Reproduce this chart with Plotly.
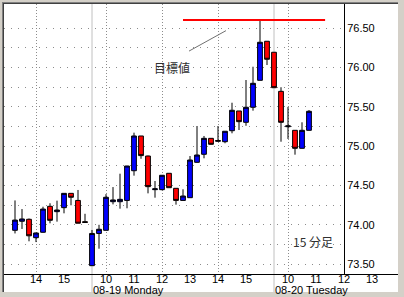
import plotly.graph_objects as go

# ---------------- data (15-minute bars) ----------------
bar_idx = list(range(43))
open_ = [73.93, 74.045, 74.07, 73.836, 73.905, 74.235, 74.167, 74.218, 74.40, 74.31,
         74.04, 73.48, 73.89, 73.93, 74.294, 74.294, 74.31, 74.688, 75.13, 74.875,
         74.447, 74.447, 74.655, 74.464, 74.31, 74.345, 74.795, 74.897, 75.10, 75.062,
         75.057, 75.197, 75.448, 75.304, 75.495, 75.838, 76.335, 76.195, 75.698, 75.248,
         75.202, 74.973, 75.202]
high = [74.31, 74.20, 74.08, 73.90, 74.23, 74.274, 74.307, 74.40, 74.40, 74.443,
        74.14, 73.934, 74.0, 74.39, 74.48, 74.65, 74.75, 75.172, 75.13, 74.88,
        74.557, 74.63, 74.655, 74.464, 74.452, 74.875, 75.257, 75.13, 75.10, 75.257,
        75.19, 75.553, 75.448, 75.842, 76.011, 76.606, 76.335, 76.195, 75.75, 75.50,
        75.202, 75.304, 75.46]
low = [73.89, 73.947, 73.79, 73.78, 73.90, 74.019, 74.04, 74.146, 74.248, 74.02,
       74.03, 73.48, 73.696, 73.93, 74.26, 74.205, 74.21, 74.625, 74.84, 74.40,
       74.345, 74.44, 74.472, 74.256, 74.31, 74.345, 74.79, 74.846, 75.02, 75.055,
       75.037, 75.164, 75.206, 75.26, 75.452, 75.838, 76.033, 75.744, 75.057, 75.092,
       74.892, 74.97, 75.20]
close = [74.06, 74.074, 73.86, 73.896, 74.20, 74.057, 74.188, 74.40, 74.35, 74.02,
         74.03, 73.89, 73.943, 74.35, 74.316, 74.324, 74.748, 75.13, 74.88, 74.485,
         74.457, 74.63, 74.472, 74.31, 74.366, 74.824, 74.888, 75.10, 75.024, 75.072,
         75.19, 75.457, 75.312, 75.495, 75.80, 76.322, 76.106, 75.744, 75.304, 75.258,
         74.973, 75.202, 75.444]

tick_idx = [3, 7, 13, 17, 21, 25, 29, 33, 39, 43, 47, 51]
tick_text = ["14", "15", "10", "11", "12", "13", "14", "15", "10", "11", "12", "13"]
day_start_idx = [11, 37]
day_labels = ["08-19 Monday", "08-20 Tuesday"]
y_grid = [73.5, 73.75, 74.0, 74.25, 74.5, 74.75, 75.0, 75.25, 75.5, 75.75, 76.0, 76.25, 76.5]
y_labels = ["73.50", "", "74.00", "", "74.50", "", "75.00", "", "75.50", "", "76.00", "", "76.50"]
target_label = "目標値"
period_label = "15 分足"

# vertical grid only at even hours
grid_idx = [k for k, h in zip(tick_idx, tick_text) if int(h) % 2 == 0]
target_price = max(high)

# ---------------- geometry ----------------
W, H = 404, 297
PL, PT, PR, PB = 4, 4, 398, 274   # outer plot box in px
AXR = 344                          # price axis x (px)
X0 = (PL - 15) / 7
X1 = (AXR - 15) / 7
X2END = (PR - 15) / 7
YR = [73.374, 76.809]


def pxx(px):
    return (px - PL) / (PR - PL)


def pxy(py):
    return (PB - py) / (PB - PT)


GRIDC = "#8c8c8c"
FONT = "Arial, Liberation Sans, sans-serif"
CJK = "Noto Sans CJK JP"

fig = go.Figure()
fig.add_trace(go.Candlestick(
    x=bar_idx, open=open_, high=high, low=low, close=close,
    increasing=dict(fillcolor="#0000ff", line=dict(color="black", width=1)),
    decreasing=dict(fillcolor="#ff0000", line=dict(color="black", width=1)),
    whiskerwidth=0, hoverinfo="skip", showlegend=False,
))
fig.add_trace(go.Scatter(x=[], y=[], xaxis="x2", yaxis="y2",
                         showlegend=False, hoverinfo="skip"))

shapes = [
    dict(type="rect", xref="paper", yref="paper", x0=pxx(2), x1=pxx(PR), y0=pxy(292), y1=pxy(2),
         fillcolor="#808080", line=dict(width=0), layer="below"),
    dict(type="rect", xref="paper", yref="paper", x0=pxx(3), x1=pxx(PR), y0=pxy(292), y1=pxy(3),
         fillcolor="#404040", line=dict(width=0), layer="below"),
    dict(type="rect", xref="paper", yref="paper", x0=pxx(PL), x1=pxx(PR), y0=pxy(292), y1=pxy(PT),
         fillcolor="white", line=dict(width=0), layer="below"),
]
for d in day_start_idx:
    shapes.append(dict(type="line", xref="x", yref="paper", x0=d, x1=d, y0=pxy(292), y1=1,
                       line=dict(color="#c0c0c0", width=1), layer="below"))
# target line
shapes.append(dict(type="line", xref="x", yref="y", x0=24.0, x1=44.3,
                   y0=target_price, y1=target_price, line=dict(color="#ff0000", width=2)))
# pointer line from label
shapes.append(dict(type="line", xref="x", yref="y", x0=24.86, y0=76.21, x1=30.14, y1=76.47,
                   line=dict(color="#707070", width=1)))

annotations = [
    dict(x=22.43, y=76.0, xref="x", yref="y", text=target_label, showarrow=False,
         font=dict(family=CJK, size=12, color="#303030")),
    dict(x=42.57, y=73.79, xref="x", yref="y", text=period_label, showarrow=False,
         font=dict(family=CJK, size=12, color="#303030")),
]
for d, lab in zip(day_start_idx, day_labels):
    annotations.append(dict(x=d, y=pxy(289.5), xref="x", yref="paper", text=lab,
                            xanchor="left", yanchor="middle", xshift=-1, showarrow=False,
                            font=dict(family=FONT, size=11, color="black")))

fig.update_layout(
    width=W, height=H,
    margin=dict(l=PL, r=W - PR, t=PT, b=H - PB, pad=0),
    paper_bgcolor="#d4d0c8", plot_bgcolor="rgba(0,0,0,0)",
    boxgap=0.03, boxgroupgap=0.3,
    showlegend=False,
    xaxis=dict(domain=[0, (AXR - PL) / (PR - PL)], range=[X0, X1], anchor="y",
               tickmode="array", tickvals=grid_idx, showticklabels=False, ticks="",
               showgrid=True, gridcolor=GRIDC, griddash="1px,2px", gridwidth=1,
               zeroline=False, showline=False, rangeslider=dict(visible=False), fixedrange=True),
    yaxis=dict(domain=[0, 1], range=YR, anchor="x", side="right",
               tickmode="array", tickvals=y_grid, ticktext=y_labels, ticks="",
               showgrid=True, gridcolor=GRIDC, griddash="1px,6px", gridwidth=1,
               showline=True, linecolor="black", linewidth=1, zeroline=False,
               tickfont=dict(family=FONT, size=11, color="black"), fixedrange=True),
    xaxis2=dict(domain=[0, 1], range=[X0, X2END], anchor="y2",
                tickmode="array", tickvals=tick_idx, ticktext=tick_text, ticks="",
                ticklabelstandoff=-5,
                showgrid=False, zeroline=False, showline=True, linecolor="black", linewidth=1,
                tickfont=dict(family=FONT, size=11, color="black"), fixedrange=True),
    yaxis2=dict(domain=[0, 1], range=[0, 1], anchor="x2", visible=False, fixedrange=True),
    shapes=shapes, annotations=annotations,
)

fig.write_html("out.html")
